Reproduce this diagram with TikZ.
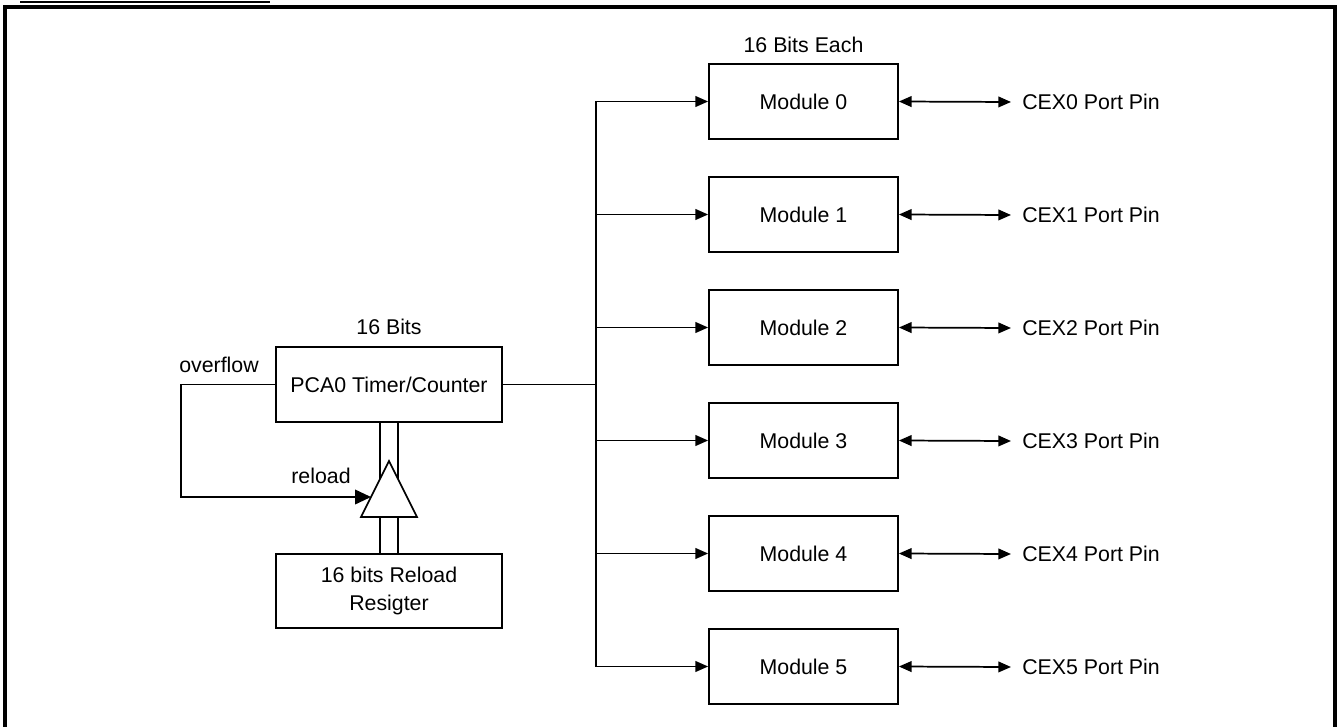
\documentclass[tikz,border=0pt]{standalone}
\usepackage{fontspec}
\setmainfont{Liberation Sans}
\usetikzlibrary{arrows.meta}
\begin{document}
\begin{tikzpicture}[x=0.75pt,y=-0.75pt,
  every node/.style={font=\fontsize{16pt}{17.5pt}\selectfont, inner sep=0pt},
  wire/.style={line width=1.3pt},
  box/.style={draw, line width=1.3pt, minimum width=169.5pt, minimum height=56pt, align=center},
  modbox/.style={draw, line width=1.3pt, minimum width=141.75pt, minimum height=56pt},
  tip/.style={-{Triangle[length=9.5pt,width=8pt]}},
  bitip/.style={{Triangle[length=9.5pt,width=8pt]}-{Triangle[length=9.5pt,width=8pt]}},
  bigtip/.style={-{Triangle[length=12pt,width=11pt]}},
  frame/.style={line width=2.4pt}]
\useasboundingbox (0,0) rectangle (1337,727);
% frame
\draw[frame] (5,728) -- (5,7) -- (1335,7) -- (1335,728);
\draw[line width=1.5pt] (20,2) -- (270,2);
% PCA and reload register
\node[box] (pca) at (389,384.5) {PCA0 Timer/Counter};
\node (bits) at (389,327) {16 Bits};
\node[box, font=\fontsize{16pt}{20.5pt}\selectfont] (rr) at (389,591) {16 bits Reload\\Resigter};
\node (ovf) at (219,365) {overflow};
\node (rl) at (321,476) {reload};
% triangle
\coordinate (tA) at (389,461);
\coordinate (tL) at (361,517);
\coordinate (tR) at (417,517);
\draw[wire, fill=white] (tA) -- (tL) -- (tR) -- cycle;
\coordinate (tin) at (371,497);
\coordinate (b1t) at (380,479);
\coordinate (b2t) at (398,479);
\coordinate (b1b) at (380,517);
\coordinate (b2b) at (398,517);
\draw[wire] (b1t) -- (b1t |- pca.south);
\draw[wire] (b2t) -- (b2t |- pca.south);
\draw[wire] (b1b) -- (b1b |- rr.north);
\draw[wire] (b2b) -- (b2b |- rr.north);
% overflow loop
\coordinate (ol) at (181,384.5);
\draw[wire, bigtip] (pca.west) -- (ol) |- (tin);
% bus
\coordinate (bus) at (596,384.5);
\coordinate (busT) at (596,101.5);
\coordinate (busB) at (596,666.5);
\draw[wire] (pca.east) -- (bus);
\draw[wire] (busT) -- (busB);
\node (each) at (803.5,45) {16 Bits Each};
\foreach \i in {0,...,5}{
  \pgfmathsetmacro{\yy}{101.5+113*\i}
  \node[modbox] (m\i) at (803.5,\yy) {Module \i};
  \node[anchor=west] (cex\i) at (1022,\yy+0.5) {CEX\i{} Port Pin};
  \coordinate (pin\i) at (1011,\yy+0.5);
  \draw[wire, tip] (m\i.west -| busT) -- (m\i.west);
  \draw[wire, bitip] (m\i.east) -- (pin\i);
}
\end{tikzpicture}
\end{document}
